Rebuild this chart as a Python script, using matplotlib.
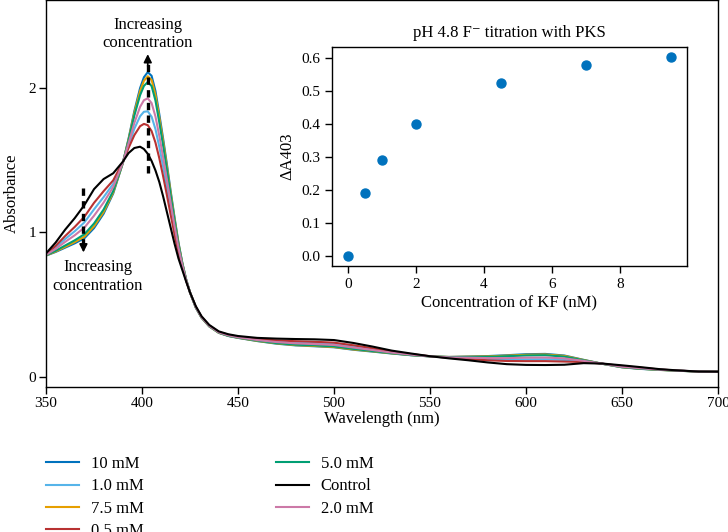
import matplotlib
matplotlib.use("Agg")
import matplotlib.pyplot as plt

plt.rcParams['font.family'] = ['Liberation Serif', 'DejaVu Serif']
plt.rcParams['mathtext.fontset'] = 'stix'

# ---------------- data ----------------
wavelength = [350, 355, 360, 365, 370, 375, 380, 385, 390, 393, 396, 399, 401, 403, 405, 407,
              409, 411, 413, 415, 417, 419, 421, 423, 425, 428, 431, 435, 440, 445, 450, 460,
              470, 480, 490, 500, 510, 520, 530, 540, 550, 560, 570, 580, 590, 600, 610, 620,
              630, 640, 650, 660, 670, 680, 690, 700]

abs_10mM = [0.840, 0.865, 0.895, 0.925, 0.960, 1.030, 1.130, 1.270, 1.480, 1.650, 1.840, 2.000,
            2.075, 2.110, 2.085, 1.980, 1.820, 1.650, 1.470, 1.280, 1.100, 0.930, 0.790, 0.675,
            0.585, 0.480, 0.410, 0.350, 0.305, 0.283, 0.270, 0.248, 0.230, 0.218, 0.212, 0.205,
            0.188, 0.175, 0.162, 0.150, 0.142, 0.138, 0.141, 0.144, 0.150, 0.157, 0.159, 0.148,
            0.118, 0.090, 0.066, 0.055, 0.048, 0.042, 0.037, 0.036]

abs_1_0mM = [0.847, 0.896, 0.955, 1.009, 1.070, 1.160, 1.245, 1.337, 1.485, 1.602, 1.718, 1.805,
             1.836, 1.839, 1.802, 1.716, 1.594, 1.458, 1.312, 1.160, 1.014, 0.877, 0.766, 0.668,
             0.585, 0.485, 0.415, 0.355, 0.310, 0.289, 0.276, 0.259, 0.247, 0.239, 0.235, 0.229,
             0.211, 0.192, 0.172, 0.156, 0.142, 0.133, 0.129, 0.123, 0.120, 0.121, 0.122, 0.117,
             0.107, 0.091, 0.073, 0.061, 0.050, 0.043, 0.037, 0.036]

abs_7_5mM = [0.841, 0.868, 0.901, 0.934, 0.971, 1.043, 1.142, 1.277, 1.480, 1.645, 1.827, 1.980,
             2.050, 2.082, 2.056, 1.953, 1.797, 1.630, 1.454, 1.268, 1.091, 0.925, 0.788, 0.674,
             0.585, 0.481, 0.410, 0.350, 0.305, 0.284, 0.271, 0.249, 0.232, 0.220, 0.214, 0.207,
             0.190, 0.177, 0.163, 0.151, 0.142, 0.138, 0.140, 0.142, 0.147, 0.153, 0.155, 0.145,
             0.117, 0.090, 0.067, 0.056, 0.048, 0.042, 0.037, 0.036]

abs_0_5mM = [0.850, 0.907, 0.976, 1.039, 1.109, 1.205, 1.286, 1.361, 1.486, 1.585, 1.674, 1.736,
             1.752, 1.743, 1.702, 1.623, 1.515, 1.390, 1.256, 1.118, 0.983, 0.859, 0.758, 0.665,
             0.585, 0.486, 0.416, 0.356, 0.311, 0.291, 0.278, 0.262, 0.253, 0.247, 0.243, 0.237,
             0.219, 0.198, 0.175, 0.158, 0.143, 0.132, 0.124, 0.115, 0.110, 0.109, 0.109, 0.106,
             0.103, 0.091, 0.075, 0.063, 0.051, 0.043, 0.037, 0.036]

abs_5_0mM = [0.842, 0.873, 0.910, 0.946, 0.988, 1.062, 1.159, 1.287, 1.481, 1.638, 1.809, 1.951,
             2.015, 2.042, 2.014, 1.914, 1.764, 1.602, 1.430, 1.250, 1.078, 0.917, 0.784, 0.673,
             0.585, 0.481, 0.411, 0.351, 0.306, 0.284, 0.272, 0.251, 0.234, 0.223, 0.218, 0.211,
             0.194, 0.179, 0.164, 0.151, 0.142, 0.137, 0.138, 0.139, 0.143, 0.148, 0.150, 0.140,
             0.115, 0.090, 0.068, 0.056, 0.049, 0.042, 0.037, 0.036]

abs_control = [0.855, 0.930, 1.020, 1.100, 1.190, 1.300, 1.370, 1.410, 1.490, 1.550, 1.585, 1.594,
               1.578, 1.545, 1.495, 1.430, 1.350, 1.250, 1.140, 1.030, 0.920, 0.820, 0.740, 0.660,
               0.585, 0.490, 0.420, 0.360, 0.315, 0.295, 0.283, 0.270, 0.265, 0.262, 0.260, 0.255,
               0.235, 0.210, 0.182, 0.162, 0.143, 0.128, 0.115, 0.100, 0.088, 0.083, 0.082, 0.084,
               0.095, 0.092, 0.080, 0.067, 0.053, 0.044, 0.037, 0.036]

abs_2_0mM = [0.845, 0.886, 0.935, 0.981, 1.034, 1.116, 1.207, 1.315, 1.483, 1.618, 1.758, 1.870,
             1.916, 1.929, 1.896, 1.804, 1.670, 1.522, 1.364, 1.200, 1.042, 0.895, 0.774, 0.670,
             0.585, 0.483, 0.413, 0.353, 0.308, 0.287, 0.274, 0.255, 0.241, 0.232, 0.227, 0.221,
             0.203, 0.186, 0.168, 0.154, 0.142, 0.135, 0.133, 0.130, 0.130, 0.133, 0.134, 0.128,
             0.111, 0.091, 0.070, 0.059, 0.050, 0.043, 0.037, 0.036]

series_labels = ['10 mM', '1.0 mM', '7.5 mM', '0.5 mM', '5.0 mM', 'Control', '2.0 mM']
series_values = [abs_10mM, abs_1_0mM, abs_7_5mM, abs_0_5mM, abs_5_0mM, abs_control, abs_2_0mM]
series_colors = ['#0072BD', '#56B4E9', '#E69F00', '#B83232', '#009E73', '#000000', '#CC79A7']

# inset data
kf_conc = [0, 0.5, 1, 2, 4.5, 7, 9.5]
delta_a403 = [0.0, 0.19, 0.292, 0.40, 0.523, 0.578, 0.603]

x_ticks = [350, 400, 450, 500, 550, 600, 650, 700]
y_ticks = [0, 1, 2]

# ---------------- figure ----------------
fig = plt.figure(figsize=(7.28, 5.32), dpi=100)
ax = fig.add_axes([0.0632, 0.2726, 0.923, 0.7274])

for lab, vals, col in zip(series_labels, series_values, series_colors):
    z = 3 if lab == 'Control' else 2
    ax.plot(wavelength, vals, color=col, lw=1.5, label=lab, zorder=z)

ax.set_xlim(350, 700)
ax.set_ylim(-0.07, 2.61)
ax.set_xticks(x_ticks)
ax.set_yticks(y_ticks)
ax.tick_params(labelsize=11, direction='out', length=5, width=1, pad=2)
ax.set_xlabel('Wavelength (nm)', fontsize=12, labelpad=1)
ax.set_ylabel('Absorbance', fontsize=12, labelpad=6)
for s in ax.spines.values():
    s.set_linewidth(1.0)

# annotation arrows
ax.plot([403, 403], [1.41, 2.17], color='black', lw=2.4, ls=(0, (2.2, 1.6)), zorder=5)
ax.annotate('', xy=(403, 2.235), xytext=(403, 2.15),
            arrowprops=dict(arrowstyle='-|>', color='black', lw=1.2, mutation_scale=12,
                            shrinkA=0, shrinkB=0), zorder=6)
ax.plot([369.5, 369.5], [1.31, 0.92], color='black', lw=2.4, ls=(0, (2.2, 1.6)), zorder=5)
ax.annotate('', xy=(369.5, 0.862), xytext=(369.5, 0.94),
            arrowprops=dict(arrowstyle='-|>', color='black', lw=1.2, mutation_scale=12,
                            shrinkA=0, shrinkB=0), zorder=6)
ax.text(403, 2.375, 'Increasing\nconcentration', ha='center', va='center', fontsize=12,
        linespacing=1.2)
ax.text(376.8, 0.695, 'Increasing\nconcentration', ha='center', va='center', fontsize=12,
        linespacing=1.2)

# legend
fig.legend(loc='upper left', bbox_to_anchor=(46 / 728, 1 - 456 / 532), ncol=2,
           frameon=False, fontsize=12, borderpad=0, borderaxespad=0,
           handlelength=2.0, handletextpad=0.7, columnspacing=7.9, labelspacing=0.38)

# inset
ins = fig.add_axes([0.456, 0.5, 0.4876, 0.4117])
ins.scatter(kf_conc, delta_a403, s=42, color='#0072BD', zorder=3)
ins.set_title('pH 4.8 F\u207b titration with PKS', fontsize=12, pad=7)
ins.set_xlabel('Concentration of KF (nM)', fontsize=12, labelpad=3)
ins.set_ylabel('\u0394A403', fontsize=12)
ins.set_xticks([0, 2, 4, 6, 8])
ins.tick_params(labelsize=11, direction='out', length=5, width=1)
for s in ins.spines.values():
    s.set_linewidth(1.0)

fig.savefig('out.png', dpi=100)
